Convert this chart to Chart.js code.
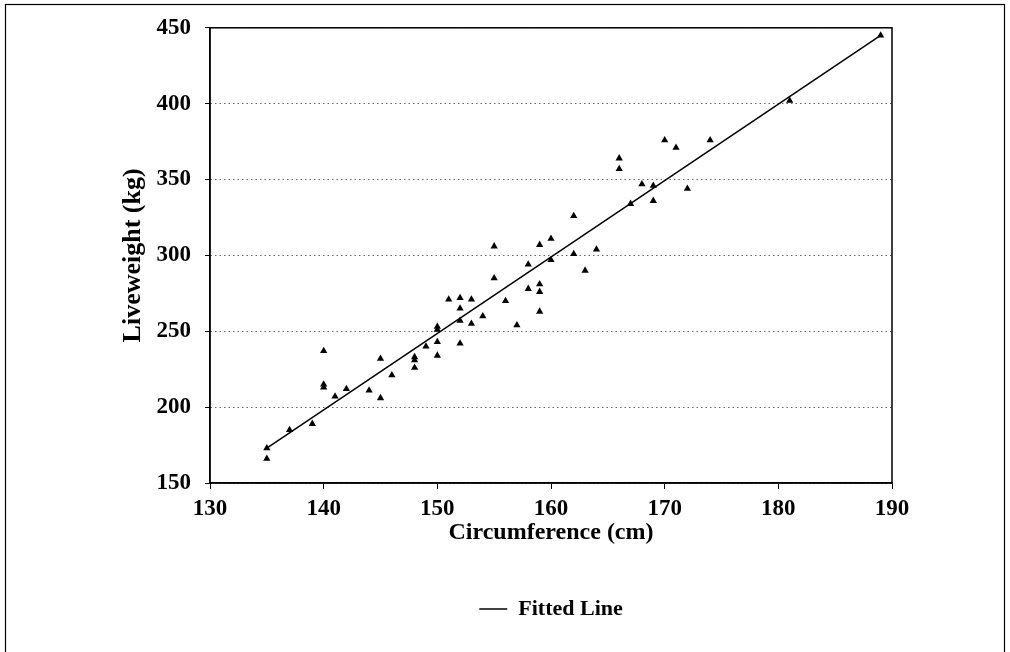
<!DOCTYPE html>
<html lang="en">
<head>
<meta charset="UTF-8">
<title>Liveweight vs Circumference</title>
<style>
  html, body { margin: 0; padding: 0; background: #fff; }
  #wrap { position: relative; width: 1010px; height: 652px; }
</style>
</head>
<body>
<div id="wrap"><canvas id="myChart" width="1010" height="652"></canvas></div>

<script src="https://cdn.jsdelivr.net/npm/chart.js"></script>
<script>
// observed animals
const circumference = [135, 135, 137, 139, 140, 140, 140, 141, 142, 144, 145, 145, 146, 148, 148, 148, 149,
  150, 150, 150, 150, 151, 152, 152, 152, 152, 153, 153, 154, 155, 155, 156, 157, 158, 158,
  159, 159, 159, 159, 160, 160, 162, 162, 163, 164, 166, 166, 167, 168, 169, 169, 170, 171,
  172, 174, 181, 189];
const liveweight = [166, 173, 185, 189, 237, 213, 215, 207, 212, 211, 206, 232, 221, 233, 231, 226, 240,
  253, 251, 243, 234, 271, 272, 265, 257, 242, 271, 255, 260, 306, 285, 270, 254, 294, 278,
  307, 281, 276, 263, 311, 297, 326, 301, 290, 304, 364, 357, 334, 347, 346, 336, 376, 371,
  344, 376, 402, 445];

// regression line end points
const fitX = [135, 189];
const fitY = [173, 445];

const xTicks = [130, 140, 150, 160, 170, 180, 190];
const yTicks = [150, 200, 250, 300, 350, 400, 450];

const serif = 'Liberation Serif';

const pts = circumference.map((c, i) => ({ x: c, y: liveweight[i] }));
const fitPts = fitX.map((c, i) => ({ x: c, y: fitY[i] }));

const framePlugin = {
  id: 'frame',
  beforeDraw(chart) {
    const ctx = chart.ctx;
    ctx.save();
    ctx.fillStyle = '#fff';
    ctx.fillRect(0, 0, chart.width, chart.height);
    ctx.restore();
  },
  afterDraw(chart) {
    const { ctx, chartArea: a } = chart;
    ctx.save();
    ctx.strokeStyle = '#000';
    ctx.lineWidth = 1.5;
    ctx.strokeRect(a.left, a.top, a.right - a.left, a.bottom - a.top);
    ctx.lineWidth = 1.2;
    ctx.strokeRect(5.5, 4.5, 999, 700);
    ctx.restore();
  }
};

const ctx = document.getElementById('myChart');

new Chart(ctx, {
  type: 'scatter',
  data: {
    datasets: [{
      label: 'Observed',
      data: pts,
      pointStyle: 'triangle',
      pointRadius: 4.2,
      pointHoverRadius: 4.2,
      backgroundColor: '#000',
      borderColor: '#000',
      borderWidth: 0
    }, {
      type: 'line',
      label: 'Fitted Line',
      data: fitPts,
      borderColor: '#000',
      backgroundColor: '#000',
      borderWidth: 1.5,
      pointRadius: 0,
      pointStyle: 'line',
      fill: false
    }]
  },
  options: {
    responsive: false,
    animation: false,
    layout: { padding: { left: 0, right: 118, top: 25, bottom: 22 } },
    scales: {
      x: {
        type: 'linear',
        min: 130,
        max: 190,
        afterBuildTicks: s => { s.ticks = xTicks.map(v => ({ value: v })); },
        afterFit: s => { s.height = 105; },
        ticks: { color: '#000', padding: 6, font: { family: serif, size: 23, weight: 'bold' } },
        grid: { drawOnChartArea: false, drawTicks: true, tickLength: 6, tickColor: '#000' },
        border: { color: '#000', width: 1.5 },
        title: {
          display: true,
          text: 'Circumference (cm)',
          color: '#000',
          padding: { top: 4, bottom: 41 },
          font: { family: serif, size: 24, weight: 'bold' }
        }
      },
      y: {
        min: 150,
        max: 450,
        afterBuildTicks: s => { s.ticks = yTicks.map(v => ({ value: v })); },
        afterFit: s => { s.width = 210; },
        ticks: { color: '#000', padding: 14, font: { family: serif, size: 23, weight: 'bold' } },
        grid: { color: '#666', lineWidth: 1, drawTicks: true, tickLength: 5, tickColor: '#000', tickBorderDash: [] },
        border: { color: '#000', width: 1.5, dash: [1.5, 3] },
        title: {
          display: true,
          text: 'Liveweight (kg)',
          color: '#000',
          padding: { top: 118, bottom: 4 },
          font: { family: serif, size: 26, weight: 'bold' }
        }
      }
    },
    plugins: {
      legend: {
        position: 'bottom',
        fullSize: false,
        labels: {
          filter: item => item.datasetIndex === 1,
          color: '#000',
          usePointStyle: true,
          pointStyle: 'line',
          pointStyleWidth: 28,
          font: { family: serif, size: 22, weight: 'bold' }
        }
      },
      tooltip: { enabled: false }
    }
  },
  plugins: [framePlugin]
});
</script>
</body>
</html>
